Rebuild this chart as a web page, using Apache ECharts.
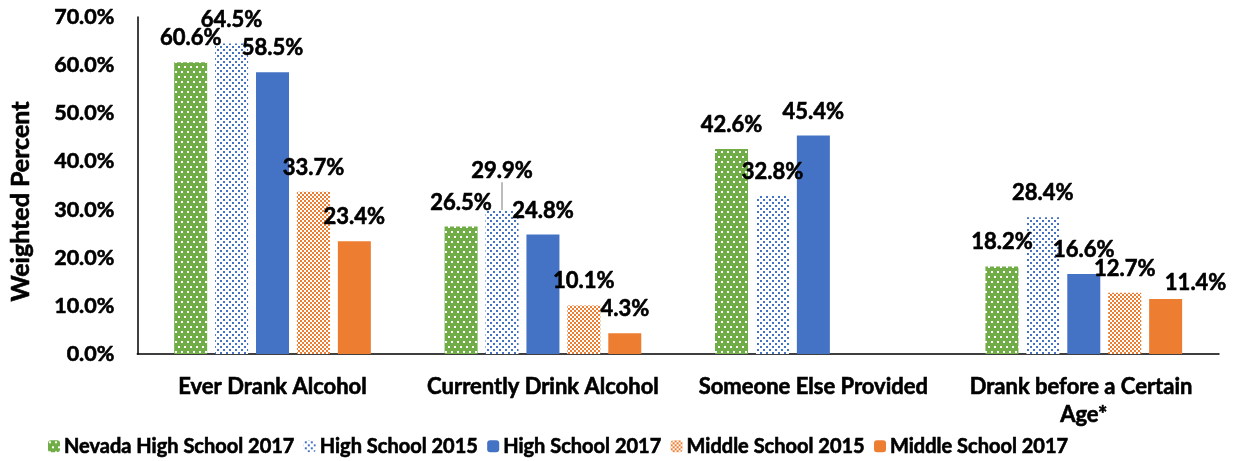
<!DOCTYPE html>
<html>
<head>
<meta charset="utf-8">
<script src="https://cdn.jsdelivr.net/npm/echarts@6/dist/echarts.min.js"></script>
<style>
  html, body { margin: 0; padding: 0; background: #fff; }
  #chart { width: 1233px; height: 461px; }
</style>
</head>
<body>
<div id="chart"></div>
<script>
// Alcohol use indicators by survey group (weighted percent)
const categories = ['Ever Drank Alcohol', 'Currently Drink Alcohol', 'Someone Else Provided', 'Drank before a Certain Age*'];
const seriesNames = ['Nevada High School 2017', 'High School 2015', 'High School 2017', 'Middle School 2015', 'Middle School 2017'];
const nevadaHS2017 = [60.6, 26.5, 42.6, 18.2];
const hs2015 = [64.5, 29.9, 32.8, 28.4];
const hs2017 = [58.5, 24.8, 45.4, 16.6];
const ms2015 = [33.7, 10.1, null, 12.7];
const ms2017 = [23.4, 4.3, null, 11.4];
const yTicks = [0, 10, 20, 30, 40, 50, 60, 70];

const FONT = 'Lato, "Open Sans", sans-serif';
// a thin outline in the text colour gives the heavier bold look
const heavy = { color: '#000', fontFamily: FONT, fontWeight: 'bold', textBorderColor: '#000', textBorderWidth: 0.6 };

// Small repeating tiles used as bar fills
function tile(w, h, bg, fg, dots) {
  const c = document.createElement('canvas');
  c.width = w; c.height = h;
  const ctx = c.getContext('2d');
  ctx.fillStyle = bg; ctx.fillRect(0, 0, w, h);
  ctx.fillStyle = fg;
  dots.forEach(d => ctx.fillRect(d[0], d[1], d[2], d[3]));
  return { image: c, repeat: 'repeat' };
}
const greenDots = tile(6, 10, '#70AD47', '#ffffff', [[1, 1, 2, 2], [4, 6, 2, 2]]);
const blueDots = tile(6, 6, '#ffffff', '#4472C4', [[1, 1, 2, 2], [4, 4, 2, 2]]);
const orangeCheck = tile(4, 4, '#ffffff', '#ED7D31', [[0, 0, 2, 2], [2, 2, 2, 2]]);

const fills = [greenDots, blueDots, '#4472C4', orangeCheck, '#ED7D31'];
const values = [nevadaHS2017, hs2015, hs2017, ms2015, ms2017];

const labelStyle = Object.assign({
  show: true,
  position: 'top',
  distance: 13,
  fontSize: 22,
  formatter: p => p.value.toFixed(1) + '%'
}, heavy);

// Individual label placements that are nudged away from the default spot
const labelNudge = {
  '1-1': { dy: -15, line: true },
  '4-3': { dx: 30, dy: 8 }
};

const series = seriesNames.map((name, si) => ({
  name,
  type: 'bar',
  barWidth: 33,
  barGap: '24%',
  itemStyle: { color: fills[si] },
  label: labelStyle,
  data: values[si].map((v, ci) => {
    const n = labelNudge[si + '-' + ci];
    if (v === null) return null;
    if (n && n.line) {
      return { value: v, labelLine: { show: true, lineStyle: { color: '#a6a6a6', width: 1.5 } } };
    }
    return v;
  })
}));

const chart = echarts.init(document.getElementById('chart'), null, { renderer: 'canvas' });
chart.setOption({
  animation: false,
  backgroundColor: '#fff',
  grid: { left: 135, right: 14, top: 17, bottom: 107, containLabel: false },
  legend: {
    data: seriesNames,
    top: 436,
    left: 48,
    padding: 0,
    itemWidth: 12,
    itemHeight: 12,
    itemGap: 9,
    textStyle: Object.assign({ fontSize: 20, padding: [0, 0, 0, -1] }, heavy)
  },
  xAxis: {
    type: 'category',
    data: categories,
    axisLine: { lineStyle: { color: '#000', width: 1.5 } },
    axisTick: { show: false },
    axisLabel: Object.assign({
      interval: 0, fontSize: 22,
      margin: 19, width: 262, overflow: 'break', lineHeight: 28
    }, heavy)
  },
  yAxis: {
    type: 'value',
    min: yTicks[0],
    max: yTicks[yTicks.length - 1],
    interval: 10,
    name: 'Weighted Percent',
    nameLocation: 'middle',
    nameGap: 104,
    nameTextStyle: Object.assign({ fontSize: 25, padding: [0, 32, 0, 0] }, heavy),
    axisLine: { show: true, lineStyle: { color: '#000', width: 1.5 } },
    axisTick: { show: false },
    splitLine: { show: false },
    axisLabel: Object.assign({
      fontSize: 21.5, margin: 23,
      formatter: v => v.toFixed(1) + '%'
    }, heavy)
  },
  labelLayout: params => {
    const n = labelNudge[params.seriesIndex + '-' + params.dataIndex];
    return n ? { dx: n.dx || 0, dy: n.dy || 0 } : {};
  },
  series
});
</script>
</body>
</html>
